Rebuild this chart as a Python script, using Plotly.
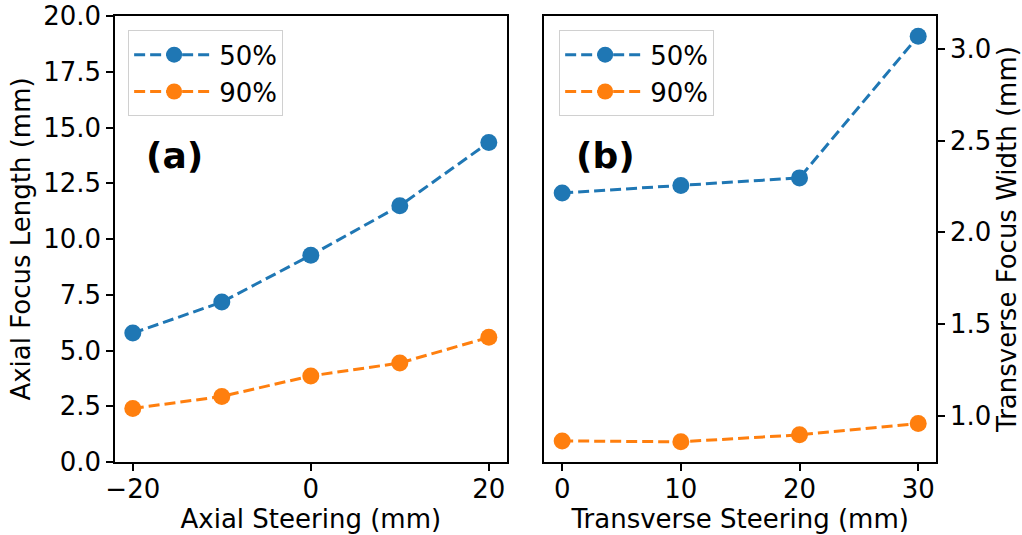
import plotly.graph_objects as go
from plotly.subplots import make_subplots

axial_steer = [-20, -10, 0, 10, 20]
axial_50 = [5.78, 7.17, 9.27, 11.49, 14.33]
axial_90 = [2.40, 2.94, 3.86, 4.44, 5.59]

trans_steer = [0, 10, 20, 30]
trans_50 = [2.215, 2.255, 2.297, 3.069]
trans_90 = [0.864, 0.859, 0.897, 0.959]

BLUE = "#1f77b4"
ORANGE = "#ff7f0e"
FONT = "DejaVu Sans"

fig = make_subplots(rows=1, cols=2, horizontal_spacing=0.046)

def add(x, y, name, color, col, legend):
    fig.add_trace(go.Scatter(
        x=x, y=y, name=name, mode="lines+markers",
        line=dict(color=color, width=3, dash="11px,5px"),
        marker=dict(color=color, size=17),
        legend=legend, showlegend=True), row=1, col=col)

add(axial_steer, axial_50, "50%", BLUE, 1, "legend")
add(axial_steer, axial_90, "90%", ORANGE, 1, "legend")
add(trans_steer, trans_50, "50%", BLUE, 2, "legend2")
add(trans_steer, trans_90, "90%", ORANGE, 2, "legend2")

axis_common = dict(showgrid=False, zeroline=False, showline=True, linecolor="black",
                   linewidth=1.5, mirror=True, ticks="outside", ticklen=7, tickwidth=1.5,
                   tickcolor="black", tickfont=dict(family=FONT, size=26, color="black"),
                   title_font=dict(family=FONT, size=26, color="black"), automargin=False)

fig.update_xaxes(**axis_common)
fig.update_yaxes(**axis_common)

fig.update_xaxes(ticklabelstandoff=-4)

fig.update_xaxes(range=[-22, 22], tickvals=[-20, 0, 20], ticktext=["\u221220", "0", "20"],
                 title_text="Axial Steering (mm)", title_standoff=6, row=1, col=1)
fig.update_yaxes(range=[0, 20], tickvals=[0, 2.5, 5, 7.5, 10, 12.5, 15, 17.5, 20],
                 tickformat=".1f", title_text="Axial Focus Length (mm)", title_standoff=5,
                 row=1, col=1)
fig.update_xaxes(range=[-1.5, 31.5], tickvals=[0, 10, 20, 30],
                 title_text="Transverse Steering (mm)", title_standoff=6, row=1, col=2)
fig.update_yaxes(range=[0.749, 3.179], tickvals=[1.0, 1.5, 2.0, 2.5, 3.0], tickformat=".1f",
                 side="right", title_text="Transverse Focus Width (mm)", title_standoff=8,
                 row=1, col=2)

legend_common = dict(font=dict(family=FONT, size=26, color="black"), bgcolor="white",
                     bordercolor="#d0d0d0", borderwidth=1, xanchor="left", yanchor="top",
                     itemwidth=80, tracegroupgap=0)
fig.update_layout(
    width=1022, height=535,
    margin=dict(l=115, r=86, t=16, b=73),
    plot_bgcolor="white", paper_bgcolor="white",
    font=dict(family=FONT, color="black"),
    legend=dict(x=0.016, y=0.968, **legend_common),
    legend2=dict(x=0.541, y=0.968, **legend_common),
)

fig.add_annotation(text="<b>(a)</b>", x=(174 - 115) / 821, y=1 - (155 - 16) / 446,
                   xref="paper", yref="paper", xanchor="center", yanchor="middle",
                   showarrow=False, font=dict(family=FONT, size=36, color="black"))
fig.add_annotation(text="<b>(b)</b>", x=(605 - 115) / 821, y=1 - (155 - 16) / 446,
                   xref="paper", yref="paper", xanchor="center", yanchor="middle",
                   showarrow=False, font=dict(family=FONT, size=36, color="black"))

fig.write_html("out.html")
